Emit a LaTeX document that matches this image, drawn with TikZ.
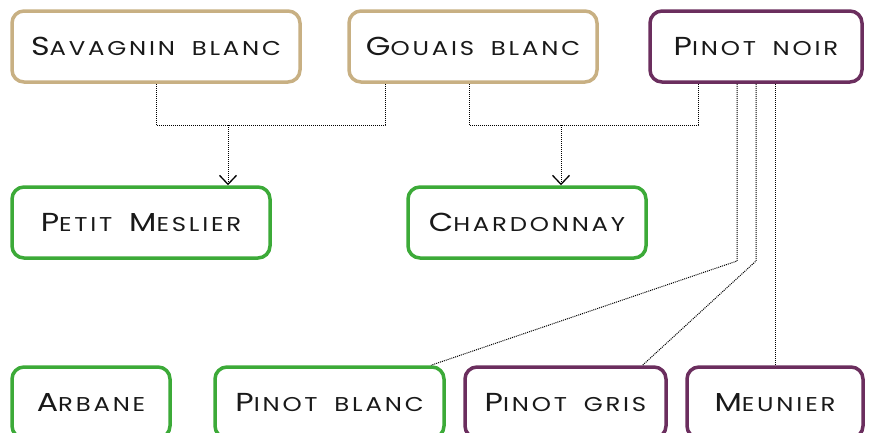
\documentclass[tikz,border=0pt]{standalone}
\usepackage{fontspec}
\setmainfont{Poppins}[FakeStretch=1.22, LetterSpace=14, WordSpace=1.8]
\usetikzlibrary{arrows.meta}

\definecolor{grapetan}{HTML}{C8B083}
\definecolor{grapepurple}{HTML}{6B2E5E}
\definecolor{grapegreen}{HTML}{3CAA38}

% capital letter of the hand-made small caps
\newcommand\Cap[1]{{\fontsize{26}{28}\selectfont #1}}

\tikzset{
  vbox/.style={draw=#1, line width=3.5pt, rounded corners=12pt, fill=white,
    minimum height=71pt, inner sep=0pt, text=black!90,
    font=\fontsize{20}{22}\selectfont},
  link/.style={draw=black, line width=1pt, dash pattern=on 1pt off 1pt},
  arrowed/.style={-{Straight Barb[length=9pt,width=17pt,line width=1.3pt]}},
}

\begin{document}
\begin{tikzpicture}[x=1pt,y=-1pt]
\useasboundingbox (0,0) rectangle (870,432);

% parents
\node[vbox=grapetan, minimum width=288pt] (sav) at (156,46.5) {\Cap{S}AVAGNIN BLANC};
\node[vbox=grapetan, minimum width=248pt] (gou) at (473,46.5) {\Cap{G}OUAIS BLANC};
\node[vbox=grapepurple, minimum width=212pt] (pno) at (756,46.5) {\Cap{P}INOT NOIR};

% offspring
\node[vbox=grapegreen, minimum width=258pt] (pme) at (141,222.5) {\Cap{P}ETIT \Cap{M}ESLIER};
\node[vbox=grapegreen, minimum width=238pt] (cha) at (527,222.5) {\Cap{C}HARDONNAY};

% mutations and others
\node[vbox=grapegreen, minimum width=158pt] (arb) at (91,402.5) {\Cap{A}RBANE};
\node[vbox=grapegreen, minimum width=229pt] (pbl) at (329.5,402.5) {\Cap{P}INOT BLANC};
\node[vbox=grapepurple, minimum width=201pt] (pgr) at (565.5,402.5) {\Cap{P}INOT GRIS};
\node[vbox=grapepurple, minimum width=176pt] (meu) at (775,402.5) {\Cap{M}EUNIER};

% crossings
\coordinate (j1) at (228,125);
\coordinate (j2) at (561,125);
\draw[link] (sav.south) |- (j1) -| ([xshift=-88pt]gou.south);
\draw[link, arrowed] (j1) -- (j1 |- pme.north);
\draw[link] ([xshift=-4pt]gou.south) |- (j2) -| ([xshift=-58pt]pno.south);
\draw[link, arrowed] (j2) -- (j2 |- cha.north);

% Pinot noir mutations
\coordinate (k1) at (737,261);
\coordinate (k2) at (756,261);
\draw[link] ([xshift=-19pt]pno.south) -- (k1) -- ([xshift=101.5pt]pbl.north);
\draw[link] (pno.south) -- (k2) -- ([xshift=77pt]pgr.north);
\draw[link] ([xshift=19pt]pno.south) -- (meu.north);
\end{tikzpicture}
\end{document}
